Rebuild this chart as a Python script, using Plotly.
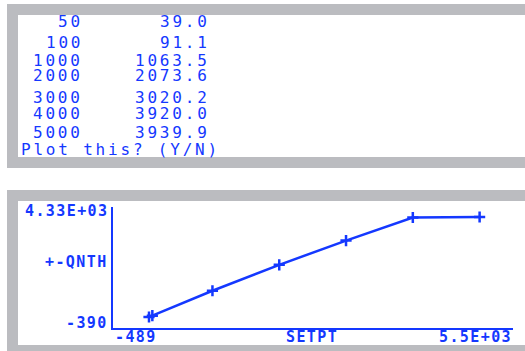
import plotly.graph_objects as go

# données du tableau
setpt = [50, 100, 1000, 2000, 3000, 4000, 5000]
qnth = [39.0, 91.1, 1063.5, 2073.6, 3020.2, 3920.0, 3939.9]

# bornes affichées par la calculatrice
x_lo, x_hi = -489, 5500
y_lo, y_hi = -390, 4330
x_titre = "SETPT"
y_titre = "+-QNTH"
prompt = "Plot this? (Y/N)"

W, H = 525, 351
BLEU = "#1438ff"
GRIS = "#bbbcc0"


def px(x):
    return x / W


def py(y):
    return 1 - y / H


def espace(t, ls):
    return '<span style="letter-spacing:%spx">%s</span>' % (ls, t)


fig = go.Figure()

fig.add_trace(go.Scatter(
    x=setpt, y=qnth, mode="lines+markers",
    line=dict(color=BLEU, width=2.5),
    marker=dict(symbol="cross-thin", size=8, line=dict(color=BLEU, width=2.5)),
    hoverinfo="x+y", showlegend=False,
))

# panneaux gris / blancs
shapes = []
for (top, bot, itop, ibot) in [(4, 168, 15, 157), (190, 351, 201, 345)]:
    shapes.append(dict(type="rect", xref="paper", yref="paper", layer="below",
                       x0=px(7), x1=1, y0=py(bot), y1=py(top),
                       fillcolor=GRIS, line=dict(width=0)))
    shapes.append(dict(type="rect", xref="paper", yref="paper", layer="below",
                       x0=px(18), x1=1, y0=py(ibot), y1=py(itop),
                       fillcolor="white", line=dict(width=0)))

# texte du haut (colonnes alignées à droite)
police = dict(family="DejaVu Sans Mono", size=16, color=BLEU)
rangs = [22, 42, 60, 76, 97, 114, 132]
annots = []
for xv, yv, r in zip(setpt, qnth, rangs):
    annots.append(dict(x=px(85), y=py(r), xref="paper", yref="paper",
                       text=espace("%d" % xv, 2.8),
                       showarrow=False, xanchor="right", yanchor="middle", font=police))
    annots.append(dict(x=px(212), y=py(r), xref="paper", yref="paper",
                       text=espace("%.1f" % yv, 2.8),
                       showarrow=False, xanchor="right", yanchor="middle", font=police))
annots.append(dict(x=px(19), y=py(149), xref="paper", yref="paper",
                   text=espace(prompt, 2.8),
                   showarrow=False, xanchor="left", yanchor="middle", font=police))

# étiquettes du graphique
pol2 = dict(family="DejaVu Sans Mono", size=15, color=BLEU, weight="bold")
annots += [
    dict(x=px(110), y=py(211), text=espace("%.2fE+03" % (y_hi / 1000), 1.4), xanchor="right"),
    dict(x=px(110), y=py(262), text=espace(y_titre, 1.4), xanchor="right"),
    dict(x=px(110), y=py(323), text=espace(str(y_lo), 1.4), xanchor="right"),
    dict(x=px(113), y=py(337), text=espace(str(x_lo), 1.4), xanchor="left"),
    dict(x=px(312), y=py(337), text=espace(x_titre, 1.4), xanchor="center"),
    dict(x=px(514), y=py(337), text=espace("%.1fE+03" % (x_hi / 1000), 1.4), xanchor="right"),
]
for a in annots[-6:]:
    a.update(xref="paper", yref="paper", showarrow=False, yanchor="middle", font=pol2)

fig.update_layout(
    width=W, height=H,
    margin=dict(l=0, r=0, t=0, b=0),
    paper_bgcolor="white", plot_bgcolor="rgba(0,0,0,0)",
    shapes=shapes, annotations=annots,
    xaxis=dict(domain=[px(113), px(513)], range=[x_lo, x_hi],
               showgrid=False, zeroline=False, showticklabels=False, ticks="",
               showline=True, linecolor=BLEU, linewidth=2),
    yaxis=dict(domain=[py(328), py(207)], range=[y_lo, y_hi],
               showgrid=False, zeroline=False, showticklabels=False, ticks="",
               showline=True, linecolor=BLEU, linewidth=2),
)

# pas de marge autour de la page, pas de barre d'outils
fig.write_html("out.html", config={"displayModeBar": False},
               post_script="document.body.style.margin='0';")
